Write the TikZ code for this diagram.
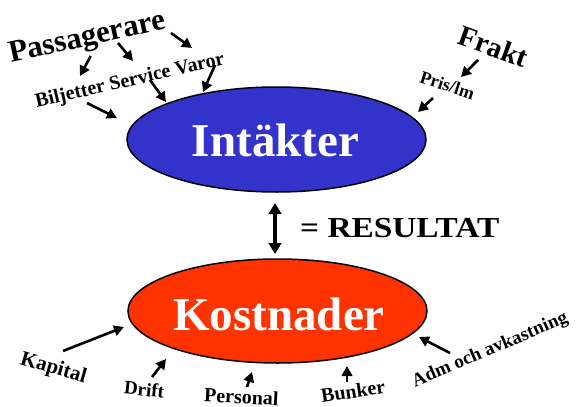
\documentclass[tikz,border=0pt]{standalone}
\usepackage{fontspec}
\setmainfont{Liberation Serif}
\usetikzlibrary{arrows.meta,shapes.geometric}
\definecolor{blueE}{RGB}{51,51,204}
\definecolor{redE}{RGB}{255,51,0}
\begin{document}
\begin{tikzpicture}[x=1pt,y=-1pt,
  ell/.style={draw=black, line width=1.5pt, ellipse, inner sep=0pt},
  big/.style={anchor=base, text=white, font=\fontsize{47}{47}\selectfont\bfseries},
  lbl/.style={anchor=base, font=\fontsize{#1}{#1}\selectfont\bfseries},
  arr/.style={line width=2.6pt, -{Triangle[length=10pt,width=10.5pt]}},
  dblarr/.style={line width=4pt, {Triangle[length=11pt,width=12.5pt]}-{Triangle[length=11pt,width=12.5pt]}}
]
\useasboundingbox (0,0) rectangle (576,407);
% ellipses
\node[ell, fill=blueE, minimum width=299pt, minimum height=105pt] (int) at (276.5,139.5) {};
\node[big] (inttxt) at (275.5,156) {Intäkter};
\node[ell, fill=redE, minimum width=299pt, minimum height=104pt] (kos) at (277.5,311) {};
\node[big] (kostxt) at (279,330) {Kostnader};
% result
\coordinate (r1) at (275,203);
\coordinate (r2) at (275,254);
\draw[dblarr] (r1) -- (r2);
\node[anchor=base west, inner xsep=0pt, font=\fontsize{29}{29}\selectfont\bfseries] (res) at (300,237.5) {\scalebox{1.15}[1]{= RESULTAT}};
% top labels
\node[lbl=31, rotate=12.5] (pass) at (89,45.5) {Passagerare};
\node[lbl=20, rotate=13] (bsv) at (131,86) {Biljetter Service Varor};
\node[lbl=29, rotate=-20] (frakt) at (490,56) {Frakt};
\node[lbl=18, rotate=-18] (pris) at (445.5,91) {Pris/lm};
% bottom labels
\node[lbl=21, rotate=-16] (kap) at (52,373.5) {Kapital};
\node[lbl=19, rotate=-6] (drift) at (143.5,396) {Drift};
\node[lbl=20, rotate=-3] (pers) at (241,403.5) {Personal};
\node[lbl=20, rotate=8.5] (bunk) at (354,398) {Bunker};
\node[lbl=19, rotate=23] (adm) at (492,354.5) {Adm och avkastning};
% arrow coordinates
\coordinate (a1s) at (90.7,56); \coordinate (a1e) at (80,76);
\coordinate (a2s) at (118,43); \coordinate (a2e) at (133,61);
\coordinate (a3s) at (171,33); \coordinate (a3e) at (192,48);
\coordinate (a4s) at (87,103); \coordinate (a4e) at (117,118);
\coordinate (a5s) at (150,80); \coordinate (a5e) at (166,102);
\coordinate (a6s) at (215,65); \coordinate (a6e) at (203,92);
\coordinate (a7s) at (478,60); \coordinate (a7e) at (461,77);
\coordinate (a8s) at (433,98); \coordinate (a8e) at (418,112);
\coordinate (b1s) at (63,351); \coordinate (b1e) at (124,327);
\coordinate (b2s) at (152,377); \coordinate (b2e) at (166,359);
\coordinate (b3s) at (247,387); \coordinate (b3e) at (252,372);
\coordinate (b4s) at (347,382); \coordinate (b4e) at (347,366);
\coordinate (b5s) at (450,353); \coordinate (b5e) at (419,337);
\foreach \n in {a1,a2,a3,a4,a5,a6,a7,a8,b1,b2,b3,b4,b5}
  \draw[arr] (\n s) -- (\n e);
\end{tikzpicture}
\end{document}
